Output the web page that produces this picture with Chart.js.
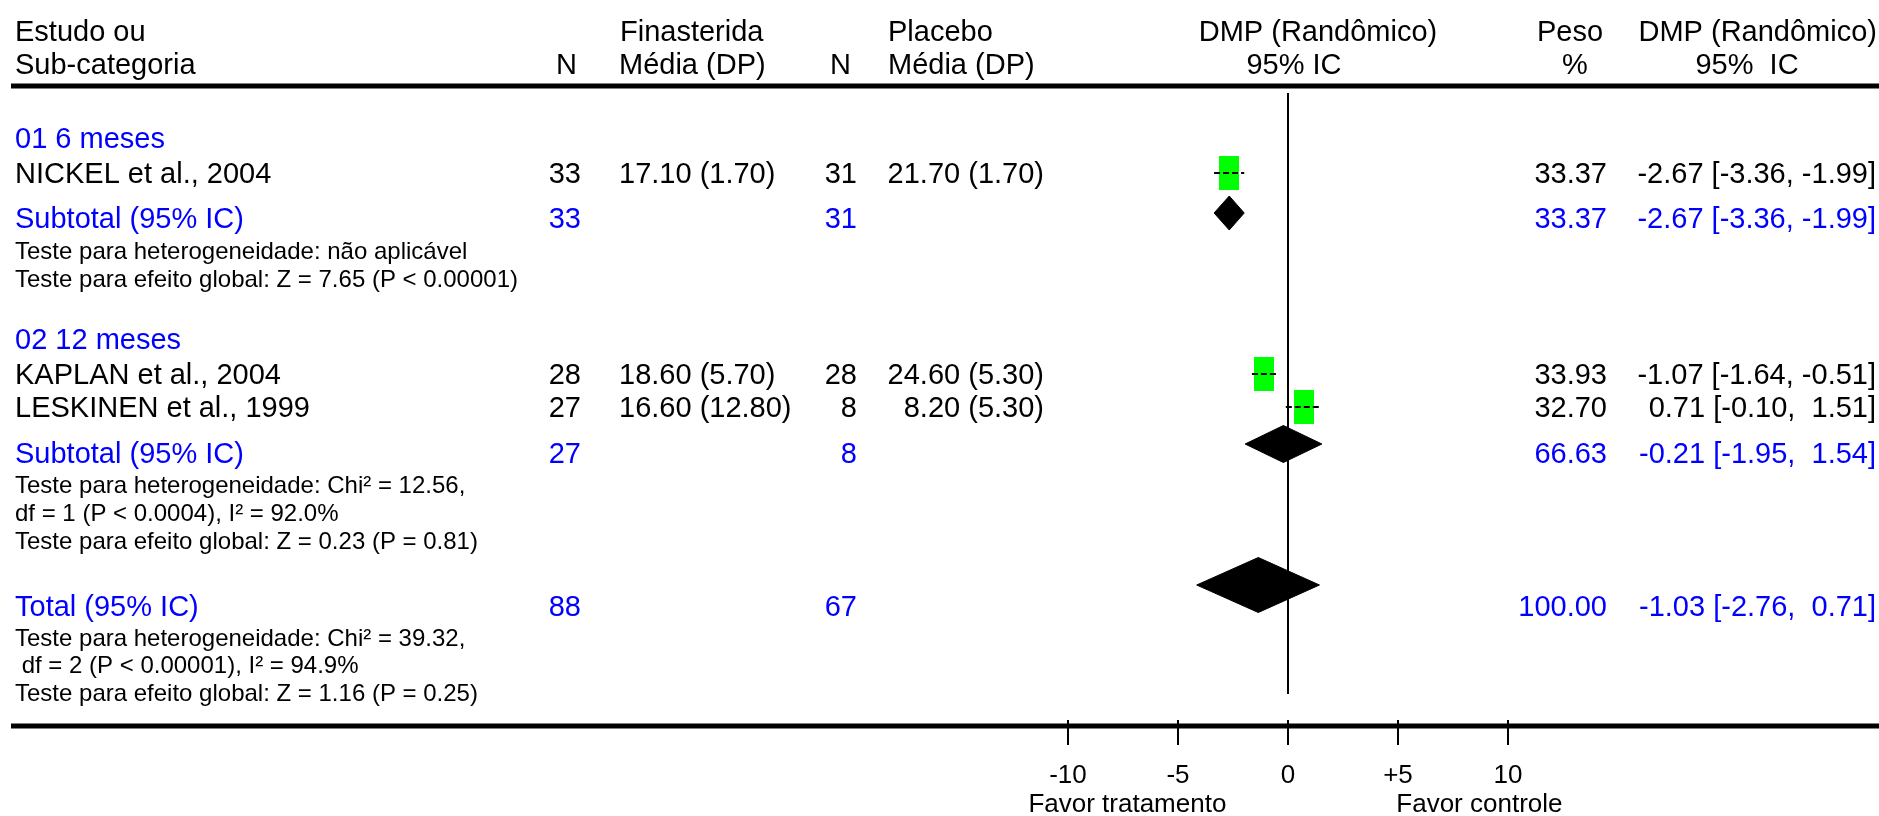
<!DOCTYPE html>
<html>
<head>
<meta charset="utf-8">
<script src="https://cdn.jsdelivr.net/npm/chart.js@4/dist/chart.umd.min.js"></script>
<style>
  html, body { margin: 0; padding: 0; background: #fff; overflow: hidden; }
  canvas { display: block; }
</style>
</head>
<body>
<canvas id="forest" width="1879" height="816"></canvas>
<script>
// ---- data ----
const studies = ['NICKEL et al., 2004', 'KAPLAN et al., 2004', 'LESKINEN et al., 1999'];
const finN = [33, 28, 27];
const finMeanSd = ['17.10 (1.70)', '18.60 (5.70)', '16.60 (12.80)'];
const plaN = [31, 28, 8];
const plaMeanSd = ['21.70 (1.70)', '24.60 (5.30)', '8.20 (5.30)'];
const studyWeight = [33.37, 33.93, 32.70];
const studyMd = [-2.67, -1.07, 0.71];
const studyLo = [-3.36, -1.64, -0.10];
const studyHi = [-1.99, -0.51, 1.51];

const groups = ['01 6 meses', '02 12 meses'];
const groupFinN = [33, 27];
const groupPlaN = [31, 8];
const groupWeight = [33.37, 66.63];
const groupMd = [-2.67, -0.21];
const groupLo = [-3.36, -1.95];
const groupHi = [-1.99, 1.54];
const groupNotes = [
    ['Teste para heterogeneidade: não aplicável',
     'Teste para efeito global: Z = 7.65 (P < 0.00001)'],
    ['Teste para heterogeneidade: Chi² = 12.56,',
     'df = 1 (P < 0.0004), I² = 92.0%',
     'Teste para efeito global: Z = 0.23 (P = 0.81)']
];

const totalFinN = 88;
const totalPlaN = 67;
const totalWeight = 100;
const totalMd = -1.03;
const totalLo = -2.76;
const totalHi = 0.71;
// the overall diamond is drawn wider than its printed interval: [left, centre, right]
const totalDiamond = [-4.15, -1.35, 1.43];
const totalNotes = [
    'Teste para heterogeneidade: Chi² = 39.32,',
    ' df = 2 (P < 0.00001), I² = 94.9%',
    'Teste para efeito global: Z = 1.16 (P = 0.25)'
];

const axisTicks = [-10, -5, 0, 5, 10];
const axisTickLabels = ['-10', '-5', '0', '+5', '10'];
const favourLabels = ['Favor tratamento', 'Favor controle'];

// ---- layout ----
const W = 1879, H = 816;
const ZERO_PX = 1288, PX_PER_UNIT = 22;
const COL = { name: 15, finN: 581, finMean: 619, plaN: 857, plaMean: 1044, weight: 1607, ci: 1876 };
const Y = {
    head1: 41, head2: 74,
    groupTitle: [148, 349],
    study: [183, 384, 417],
    subtotal: [228, 463],
    groupNotes: [[259, 287], [493, 521, 549]],
    total: 616,
    totalNotes: [646, 673, 701],
    ruleTop: 86, ruleBottom: 726,
    zeroTop: 93, zeroBottom: 694,
    tickTop: 720, tickBottom: 745, tickLabel: 783, favour: 812
};
const MARK_SHIFT = 10;                 // box centre sits at cap-height middle of its row
const BOX = { w: 20, h: 34 };
const DIAMOND_Y = [213, 444];
const DIAMOND_HALF = [17, 18.5];
const TOTAL_DIAMOND_Y = 585;
const TOTAL_DIAMOND_HALF = 27.5;
const FAVOUR_X = [-7.3, 8.7];          // in effect units

const FONT = '"Liberation Sans", Arial, Helvetica, sans-serif';
const MAIN = '29px ' + FONT;
const SMALL = '24px ' + FONT;
const AXIS = '26px ' + FONT;
const BLUE = '#0000ff';
const GREEN = '#00ff00';
const BLACK = '#000000';

function signed(v) {
    return (v < 0 ? '' : ' ') + v.toFixed(2);
}
function ciText(md, lo, hi) {
    return md.toFixed(2) + ' [' + lo.toFixed(2) + ',' + ' ' + signed(hi) + ']';
}

// green study box used as point style
const boxImg = document.createElement('canvas');
boxImg.width = BOX.w;
boxImg.height = BOX.h;
const bctx = boxImg.getContext('2d');
bctx.fillStyle = GREEN;
bctx.fillRect(0, 0, BOX.w, BOX.h);

// ---- datasets ----
const datasets = [];

studies.forEach((s, i) => {
    const y = Y.study[i] - MARK_SHIFT;
    datasets.push({
        type: 'line',
        data: [{ x: studyLo[i], y: y }, { x: studyHi[i], y: y }],
        borderColor: BLACK,
        borderWidth: 2,
        borderDash: [6, 3],
        pointRadius: 0,
        order: 0
    });
});

datasets.push({
    type: 'scatter',
    data: studies.map((s, i) => ({ x: studyMd[i], y: Y.study[i] - MARK_SHIFT })),
    pointStyle: boxImg,
    pointRadius: 10,
    order: 1
});

function diamond(lo, mid, hi, y, half) {
    return {
        type: 'line',
        data: [
            { x: lo, y: y }, { x: mid, y: y - half },
            { x: hi, y: y }, { x: mid, y: y + half }, { x: lo, y: y }
        ],
        borderColor: BLACK,
        backgroundColor: BLACK,
        borderWidth: 1,
        fill: 'shape',
        tension: 0,
        pointRadius: 0,
        order: 2
    };
}
groups.forEach((g, i) => {
    datasets.push(diamond(groupLo[i], groupMd[i], groupHi[i], DIAMOND_Y[i], DIAMOND_HALF[i]));
});
datasets.push(diamond(totalDiamond[0], totalDiamond[1], totalDiamond[2], TOTAL_DIAMOND_Y, TOTAL_DIAMOND_HALF));

// line of no effect
datasets.push({
    type: 'line',
    data: [{ x: 0, y: Y.zeroTop }, { x: 0, y: Y.zeroBottom }],
    borderColor: BLACK,
    borderWidth: 2,
    pointRadius: 0,
    order: 3
});

// ---- table text, rules and axis ----
const tablePlugin = {
    id: 'forestTable',
    beforeDraw(chart) {
        const ctx = chart.ctx;
        ctx.save();
        ctx.fillStyle = '#fff';
        ctx.fillRect(0, 0, chart.width, chart.height);
        ctx.restore();
    },
    afterDraw(chart) {
        const ctx = chart.ctx;
        const xs = chart.scales.x;
        const ys = chart.scales.y;

        function txt(s, x, y, align, font, color) {
            ctx.font = font;
            ctx.fillStyle = color;
            ctx.textAlign = align;
            ctx.textBaseline = 'alphabetic';
            ctx.fillText(s, x, ys.getPixelForValue(y));
        }
        function hline(y, width) {
            ctx.beginPath();
            ctx.lineWidth = width;
            ctx.strokeStyle = BLACK;
            const py = ys.getPixelForValue(y);
            ctx.moveTo(11, py);
            ctx.lineTo(chart.width, py);
            ctx.stroke();
        }

        ctx.save();

        // header
        txt('Estudo ou', COL.name, Y.head1, 'left', MAIN, BLACK);
        txt('Sub-categoria', COL.name, Y.head2, 'left', MAIN, BLACK);
        txt('Finasterida', 620, Y.head1, 'left', MAIN, BLACK);
        txt('N', 577, Y.head2, 'right', MAIN, BLACK);
        txt('Média (DP)', COL.finMean, Y.head2, 'left', MAIN, BLACK);
        txt('Placebo', 888, Y.head1, 'left', MAIN, BLACK);
        txt('N', 851, Y.head2, 'right', MAIN, BLACK);
        txt('Média (DP)', 888, Y.head2, 'left', MAIN, BLACK);
        txt('DMP (Randômico)', 1318, Y.head1, 'center', MAIN, BLACK);
        txt('95% IC', 1294, Y.head2, 'center', MAIN, BLACK);
        txt('Peso', 1570, Y.head1, 'center', MAIN, BLACK);
        txt('%', 1575, Y.head2, 'center', MAIN, BLACK);
        txt('DMP (Randômico)', 1877, Y.head1, 'right', MAIN, BLACK);
        txt('95%  IC', 1747, Y.head2, 'center', MAIN, BLACK);

        hline(Y.ruleTop, 5);
        hline(Y.ruleBottom, 5);

        // groups and studies
        groups.forEach((g, gi) => {
            txt(g, COL.name, Y.groupTitle[gi], 'left', MAIN, BLUE);
            const first = gi === 0 ? 0 : 1;
            const last = gi === 0 ? 0 : 2;
            for (let i = first; i <= last; i++) {
                const y = Y.study[i];
                txt(studies[i], COL.name, y, 'left', MAIN, BLACK);
                txt(String(finN[i]), COL.finN, y, 'right', MAIN, BLACK);
                txt(finMeanSd[i], COL.finMean, y, 'left', MAIN, BLACK);
                txt(String(plaN[i]), COL.plaN, y, 'right', MAIN, BLACK);
                txt(plaMeanSd[i], COL.plaMean, y, 'right', MAIN, BLACK);
                txt(studyWeight[i].toFixed(2), COL.weight, y, 'right', MAIN, BLACK);
                txt(ciText(studyMd[i], studyLo[i], studyHi[i]), COL.ci, y, 'right', MAIN, BLACK);
            }
            const sy = Y.subtotal[gi];
            txt('Subtotal (95% IC)', COL.name, sy, 'left', MAIN, BLUE);
            txt(String(groupFinN[gi]), COL.finN, sy, 'right', MAIN, BLUE);
            txt(String(groupPlaN[gi]), COL.plaN, sy, 'right', MAIN, BLUE);
            txt(groupWeight[gi].toFixed(2), COL.weight, sy, 'right', MAIN, BLUE);
            txt(ciText(groupMd[gi], groupLo[gi], groupHi[gi]), COL.ci, sy, 'right', MAIN, BLUE);
            groupNotes[gi].forEach((n, k) => txt(n, COL.name, Y.groupNotes[gi][k], 'left', SMALL, BLACK));
        });

        // overall
        txt('Total (95% IC)', COL.name, Y.total, 'left', MAIN, BLUE);
        txt(String(totalFinN), COL.finN, Y.total, 'right', MAIN, BLUE);
        txt(String(totalPlaN), COL.plaN, Y.total, 'right', MAIN, BLUE);
        txt(totalWeight.toFixed(2), COL.weight, Y.total, 'right', MAIN, BLUE);
        txt(ciText(totalMd, totalLo, totalHi), COL.ci, Y.total, 'right', MAIN, BLUE);
        totalNotes.forEach((n, k) => txt(n, COL.name, Y.totalNotes[k], 'left', SMALL, BLACK));

        // effect axis
        ctx.lineWidth = 2;
        ctx.strokeStyle = BLACK;
        axisTicks.forEach((t, i) => {
            const px = xs.getPixelForValue(t);
            ctx.beginPath();
            ctx.moveTo(px, ys.getPixelForValue(Y.tickTop));
            ctx.lineTo(px, ys.getPixelForValue(Y.tickBottom));
            ctx.stroke();
            txt(axisTickLabels[i], px, Y.tickLabel, 'center', AXIS, BLACK);
        });
        favourLabels.forEach((f, i) => {
            txt(f, xs.getPixelForValue(FAVOUR_X[i]), Y.favour, 'center', AXIS, BLACK);
        });

        ctx.restore();
    }
};

new Chart(document.getElementById('forest').getContext('2d'), {
    type: 'scatter',
    data: { datasets },
    options: {
        responsive: false,
        animation: false,
        events: [],
        layout: { padding: 0, autoPadding: false },
        plugins: {
            legend: { display: false },
            tooltip: { enabled: false }
        },
        scales: {
            x: { type: 'linear', display: false, min: -ZERO_PX / PX_PER_UNIT, max: (W - ZERO_PX) / PX_PER_UNIT },
            y: { type: 'linear', display: false, min: 0, max: H, reverse: true }
        }
    },
    plugins: [tablePlugin]
});
</script>
</body>
</html>
